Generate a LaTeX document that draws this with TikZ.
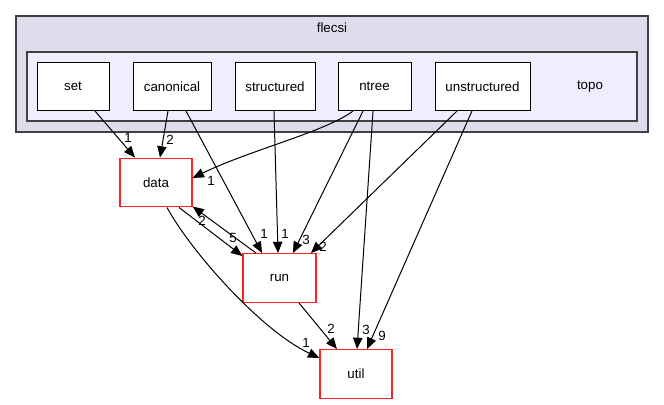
\documentclass[tikz,border=0pt]{standalone}
\usepackage{fontspec}
\setmainfont{Liberation Sans}
\usetikzlibrary{arrows.meta}
\definecolor{outerfill}{HTML}{DDDDEE}
\definecolor{innerfill}{HTML}{EEEEFF}
\definecolor{clborder}{HTML}{404040}
\definecolor{redbd}{HTML}{FF2020}
\begin{document}
\begin{tikzpicture}[x=0.75pt,y=-0.75pt,
  txt/.style={font=\fontsize{10}{12}\selectfont},
  cluster/.style={draw=clborder, line width=1.1pt, inner sep=0pt},
  dirbox/.style={txt, draw=black, line width=0.75pt, fill=white, inner sep=0pt, minimum height=36pt},
  redbox/.style={txt, draw=redbd, line width=0.9pt, fill=white, inner sep=0pt, minimum height=36.5pt, minimum width=54pt},
  lbl/.style={txt, inner sep=0pt},
  edge/.style={draw=black, line width=0.75pt, -{Triangle[length=8.5pt,width=7pt]}}
]
\useasboundingbox (0,0) rectangle (664,404);
% clusters
\node[cluster, fill=outerfill, minimum width=474pt, minimum height=87pt] (flecsi) at (332,74) {};
\node[txt] (flecsilbl) at (332,28) {flecsi};
\node[cluster, fill=innerfill, minimum width=457.5pt, minimum height=51.75pt] (topo) at (332,86.5) {};
\node[txt] (topolbl) at (590,86.5) {topo};
% topo sub-directories
\node[dirbox, minimum width=54pt] (set) at (73,86.5) {set};
\node[dirbox, minimum width=58.5pt] (canonical) at (172,86.5) {canonical};
\node[dirbox, minimum width=60pt] (structured) at (275,86.5) {structured};
\node[dirbox, minimum width=54.75pt] (ntree) at (374.5,86.5) {ntree};
\node[dirbox, minimum width=71.25pt] (unstructured) at (482.5,86.5) {unstructured};
% outside directories
\node[redbox] (data) at (156,182.5) {data};
\node[redbox, minimum width=54.75pt] (run) at (279.5,278) {run};
\node[redbox] (util) at (356,374) {util};
% edges
\draw[edge] ([xshift=16.5pt]set.south) -- ([xshift=-15.75pt]data.north);
\node[lbl] at (128,138) {1};
\draw[edge] ([xshift=-3pt]canonical.south) -- ([xshift=3pt]data.north);
\node[lbl] at (170,140) {2};
\draw[edge] ([xshift=10.5pt]canonical.south) -- ([xshift=-13.1pt]run.north);
\node[lbl] at (264,234) {1};
\draw[edge] ([xshift=-0.75pt]structured.south) -- ([xshift=-1.1pt]run.north);
\node[lbl] at (285,234) {1};
\draw[edge] ([xshift=-16.1pt]ntree.south) .. controls (325,132) and (250,150) .. ([yshift=3.4pt]data.east);
\node[lbl] at (211,181) {1};
\draw[edge] ([xshift=-8.6pt]ntree.south) -- ([xshift=10.1pt]run.north);
\node[lbl] at (306,240) {3};
\draw[edge] ([xshift=-1.1pt]ntree.south) -- ([xshift=0.75pt]util.north);
\node[lbl] at (366,330) {3};
\draw[edge] ([xshift=-19.1pt]unstructured.south) -- ([xshift=23.6pt]run.north);
\node[lbl] at (323,247) {2};
\draw[edge] ([xshift=-7.9pt]unstructured.south) -- ([xshift=8.25pt]util.north);
\node[lbl] at (382,336) {9};
\draw[edge] ([xshift=14.6pt]run.south) -- ([xshift=-14.25pt]util.north);
\node[lbl] at (331,329) {2};
\draw[edge] ([xshift=8.25pt]data.south) .. controls (190,250) and (260,330) .. ([yshift=12pt]util.west);
\node[lbl] at (306,343) {1};
\draw[edge] ([xshift=17.25pt]data.south) -- ([yshift=16.5pt]run.west);
\node[lbl] at (233,238) {5};
\draw[edge] ([xshift=-17.6pt]run.north) -- ([yshift=0.75pt]data.south east);
\node[lbl] at (202,221) {2};
\end{tikzpicture}
\end{document}
